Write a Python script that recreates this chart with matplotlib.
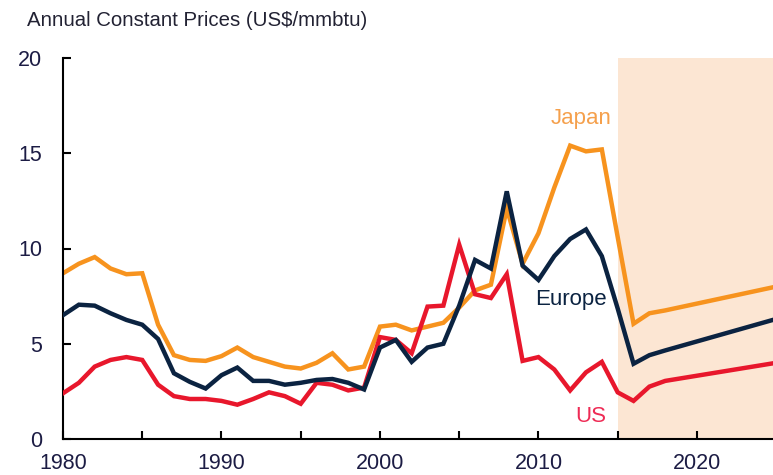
import matplotlib.pyplot as plt

plt.rcParams['font.family'] = ['Liberation Sans', 'DejaVu Sans']

# annual constant prices, US$/mmbtu
years = list(range(1980, 2019)) + [2025]

japan = [8.7, 9.2, 9.55, 8.95, 8.65, 8.7, 6.0, 4.4, 4.15, 4.1,
         4.35, 4.8, 4.3, 4.05, 3.8, 3.7, 4.0, 4.5, 3.65, 3.8,
         5.9, 6.0, 5.7, 5.9, 6.1, 6.9, 7.8, 8.1, 12.1, 9.2,
         10.8, 13.2, 15.4, 15.1, 15.2, 10.6, 6.05, 6.6, 6.75, 8.0]

europe = [6.5, 7.05, 7.0, 6.6, 6.25, 6.0, 5.25, 3.45, 3.0, 2.65,
          3.35, 3.75, 3.05, 3.05, 2.85, 2.95, 3.1, 3.15, 2.95, 2.6,
          4.8, 5.2, 4.05, 4.8, 5.0, 7.0, 9.4, 8.95, 13.0, 9.1,
          8.35, 9.6, 10.5, 11.0, 9.6, 6.85, 3.95, 4.4, 4.65, 6.3]

us = [2.4, 2.95, 3.8, 4.15, 4.3, 4.15, 2.85, 2.25, 2.1, 2.1,
      2.0, 1.8, 2.1, 2.45, 2.25, 1.85, 2.95, 2.85, 2.55, 2.7,
      5.35, 5.2, 4.5, 6.95, 7.0, 10.2, 7.6, 7.4, 8.65, 4.1,
      4.3, 3.65, 2.55, 3.5, 4.05, 2.45, 2.0, 2.75, 3.05, 4.0]

forecast_start = 2015
xticks = list(range(1980, 2025, 5))
xlabels = [str(y) if y % 10 == 0 else '' for y in xticks]
yticks = [0, 5, 10, 15, 20]

c_japan = '#F7931E'
c_europe = '#0B2341'
c_us = '#E8172C'

fig = plt.figure(figsize=(7.73, 4.75), dpi=100)
ax = fig.add_axes([63 / 773, 1 - 439 / 475, 1 - 63 / 773, (439 - 58) / 475])

ax.axvspan(forecast_start, 2030, color='#FCE6D3', lw=0, zorder=0)

ax.plot(years, japan, color=c_japan, lw=3.2, zorder=2, solid_joinstyle='miter')
ax.plot(years, us, color=c_us, lw=3.2, zorder=3, solid_joinstyle='miter')
ax.plot(years, europe, color=c_europe, lw=3.2, zorder=4, solid_joinstyle='miter')

ax.set_xlim(1980, 2024.8)
ax.set_ylim(0, 20)
ax.set_xticks(xticks)
ax.set_xticklabels(xlabels)
ax.set_yticks(yticks)

for s in ['top', 'right']:
    ax.spines[s].set_visible(False)
for s in ['left', 'bottom']:
    ax.spines[s].set_linewidth(1.5)
    ax.spines[s].set_color('black')

ax.tick_params(axis='both', direction='in', length=6, width=1.5,
               labelsize=15.5, labelcolor='#1c1c44')
ax.tick_params(axis='y', pad=15)
ax.tick_params(axis='x', pad=10)

ax.text(2012.7, 16.85, 'Japan', color='#F5A04C', fontsize=16, ha='center', va='center')
ax.text(2012.05, 7.3, 'Europe', color=c_europe, fontsize=16, ha='center', va='center')
ax.text(2013.3, 1.2, 'US', color='#EE2B55', fontsize=16, ha='center', va='center')

fig.text(27 / 773, 1 - 21 / 475, 'Annual Constant Prices (US$/mmbtu)',
         fontsize=14.7, color='#222233', ha='left', va='center')

fig.savefig('out.png', dpi=100)
